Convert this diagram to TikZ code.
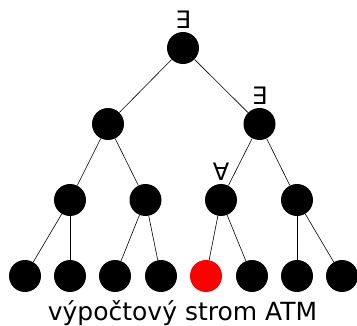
\documentclass[tikz,border=0pt]{standalone}
\usepackage{fontspec}
\setmainfont{DejaVu Sans}
\tikzset{
	vrchol/.style={circle, fill=black, inner sep=0pt, minimum size=32pt},
	kvant/.style={label distance=3pt, inner sep=0pt},
}
\begin{document}
\begin{tikzpicture}[x=1pt, y=1pt, line width=0.6pt, font=\fontsize{24}{28}\selectfont]
				\useasboundingbox (0,0) rectangle (357,325);
				\node[vrchol, label={[kvant]above:∃}] (r) at (183,277) {};
				\node[vrchol] (a) at (108,201) {};
				\node[vrchol, label={[kvant]above:∃}] (b) at (259.5,201) {};
				\node[vrchol] (aa) at (70,125) {};
				\node[vrchol] (ab) at (145.5,125) {};
				\node[vrchol, label={[kvant]above:∀}] (ba) at (221,125) {};
				\node[vrchol] (bb) at (297,125) {};
				\node[vrchol] (l1) at (25,49) {};
				\node[vrchol] (l2) at (70,49) {};
				\node[vrchol] (l3) at (115,49) {};
				\node[vrchol] (l4) at (161,49) {};
				\node[vrchol, fill=red] (l5) at (206,49) {};
				\node[vrchol] (l6) at (252,49) {};
				\node[vrchol] (l7) at (297,49) {};
				\node[vrchol] (l8) at (342,49) {};
				\draw (r)--(a);
				\draw (r)--(b);
				\draw (a)--(aa);
				\draw (a)--(ab);
				\draw (b)--(ba);
				\draw (b)--(bb);
				\draw (aa)--(l1);
				\draw (aa)--(l2);
				\draw (ab)--(l3);
				\draw (ab)--(l4);
				\draw (ba)--(l5);
				\draw (ba)--(l6);
				\draw (bb)--(l7);
				\draw (bb)--(l8);
				\node[anchor=base, inner sep=0pt, font=\fontsize{25}{30}\selectfont] (popis) at (182.5,5) {výpočtový strom ATM};
			\end{tikzpicture}
\end{document}
